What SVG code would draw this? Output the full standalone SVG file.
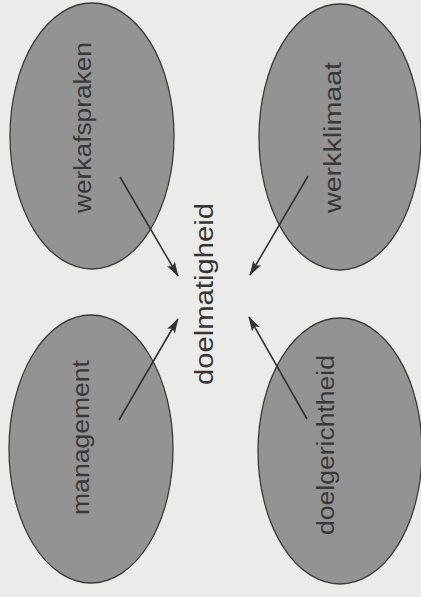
<svg xmlns="http://www.w3.org/2000/svg" width="421" height="597" viewBox="0 0 421 597">
<style>
.bg{fill:#ebebe9}
.node ellipse{fill:#939393;stroke:#3a3a3a;stroke-width:1.3}
.lbl{font-family:"Liberation Sans",Arial,sans-serif;font-size:23px;fill:#383838;text-anchor:middle}
.ctr{font-family:"Liberation Sans",Arial,sans-serif;font-size:26px;fill:#353535;text-anchor:middle}
.conn line{stroke:#333;stroke-width:1.6;marker-end:url(#ah)}
</style>
<defs>
<marker id="ah" viewBox="0 0 15 9" refX="14" refY="4.5" markerWidth="15" markerHeight="9" markerUnits="userSpaceOnUse" orient="auto">
<path d="M0,0 L15,4.5 L0,9 L3,4.5 Z" fill="#333"/>
</marker>
</defs>
<rect class="bg" x="0" y="0" width="421" height="597"/>
<g id="werkafspraken" class="node">
<ellipse cx="92" cy="136" rx="82" ry="133"/>
<text class="lbl" x="91" y="127.5" transform="rotate(-90 91 127.5)" textLength="171" lengthAdjust="spacingAndGlyphs">werkafspraken</text>
</g>
<g id="werkklimaat" class="node">
<ellipse cx="340" cy="137" rx="81" ry="133"/>
<text class="lbl" x="341" y="137.5" transform="rotate(-90 341 137.5)" textLength="151" lengthAdjust="spacingAndGlyphs">werkklimaat</text>
</g>
<g id="management" class="node">
<ellipse cx="91" cy="449" rx="82" ry="134"/>
<text class="lbl" x="89" y="437.5" transform="rotate(-90 89 437.5)" textLength="155" lengthAdjust="spacingAndGlyphs">management</text>
</g>
<g id="doelgerichtheid" class="node">
<ellipse cx="340" cy="451" rx="82" ry="133"/>
<text class="lbl" x="334" y="445" transform="rotate(-90 334 445)" textLength="180" lengthAdjust="spacingAndGlyphs">doelgerichtheid</text>
</g>
<g id="doelmatigheid" class="node">
<text class="ctr" x="213" y="294" transform="rotate(-90 213 294)" textLength="182" lengthAdjust="spacingAndGlyphs">doelmatigheid</text>
</g>
<g id="connectors" class="conn">
<line x1="120" y1="177" x2="178" y2="276"/>
<line x1="308" y1="176" x2="250" y2="275"/>
<line x1="119" y1="420" x2="178" y2="319"/>
<line x1="307" y1="419" x2="249" y2="317"/>
</g>
</svg>
